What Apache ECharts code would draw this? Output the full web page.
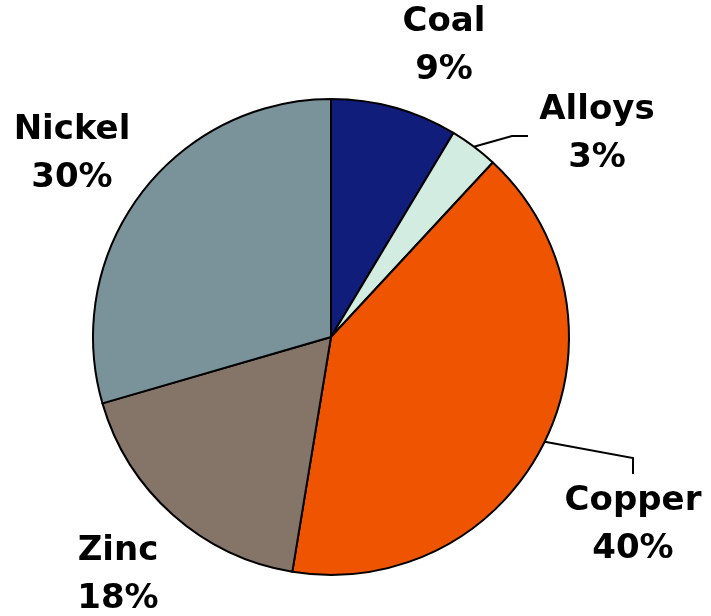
<!DOCTYPE html>
<html>
<head>
<meta charset="utf-8">
<script src="https://cdn.jsdelivr.net/npm/echarts@6/dist/echarts.min.js"></script>
<style>
    html, body { margin: 0; padding: 0; background: #fff; }
</style>
</head>
<body>
<div style="width:711px;height:616px;" id="metals_pie"></div>
<script>
// slice names and shares (%), clockwise from 12 o'clock
var categories = ['Coal', 'Alloys', 'Copper', 'Zinc', 'Nickel'];
// slice sizes as drawn
var shares = [8.6, 3.3, 40.7, 17.9, 29.5];
// percentages as printed on the labels
var printedPct = [9, 3, 40, 18, 30];
var colors = ['#111d7a', '#d3ece1', '#ef5400', '#857468', '#7a939b'];

// where each label block sits (centre), and the elbow of the guide lines
var labelSpots = [[444, 46], [597, 134], [633, 525], [118, 575], [72, 154]];
var guideBends = {
    1: [[512, 136], [528, 136]],
    2: [[633, 458], [633, 474]]
};

var metalsPie = echarts.init(document.getElementById('metals_pie'));

var pieData = categories.map(function (name, i) {
    return {
        name: name,
        value: shares[i],
        itemStyle: {color: colors[i]},
        labelLine: {show: !!guideBends[i]}
    };
});

var option = {
    animation: false,
    series: [
        {
            type: 'pie',
            center: [331, 337],
            radius: 238,
            startAngle: 90,
            clockwise: true,
            avoidLabelOverlap: false,
            data: pieData,
            itemStyle: {
                borderColor: '#000',
                borderWidth: 2
            },
            label: {
                show: true,
                position: 'outside',
                formatter: function (p) {
                    return p.name + '\n' + printedPct[p.dataIndex] + '%';
                },
                color: '#000',
                fontFamily: 'DejaVu Sans',
                fontWeight: 'bold',
                fontSize: 34,
                lineHeight: 48
            },
            labelLine: {
                lineStyle: {color: '#000', width: 2}
            },
            labelLayout: function (params) {
                var i = params.dataIndex;
                var spot = labelSpots[i];
                var out = {x: spot[0], y: spot[1], align: 'center', verticalAlign: 'middle'};
                if (guideBends[i] && params.labelLinePoints) {
                    out.labelLinePoints = [params.labelLinePoints[0]].concat(guideBends[i]);
                }
                return out;
            }
        }
    ]
};
metalsPie.setOption(option);
window.addEventListener('resize', function () {
    metalsPie.resize();
});
</script>
</body>
</html>
